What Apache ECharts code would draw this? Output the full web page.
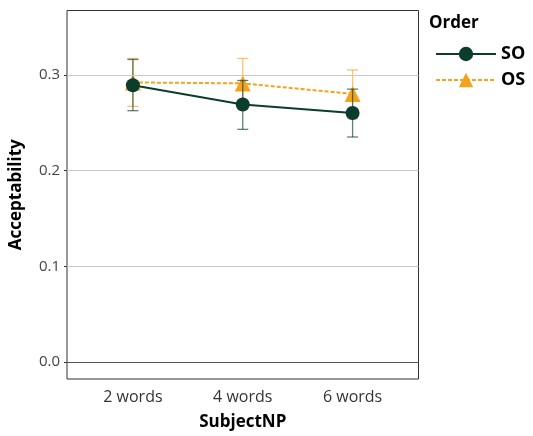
<!DOCTYPE html>
<html>
<head>
<meta charset="utf-8">
<script src="https://cdn.jsdelivr.net/npm/echarts@6/dist/echarts.min.js"></script>
<style>
  html, body { margin: 0; padding: 0; background: #fff; }
  #chart { width: 533px; height: 436px; }
</style>
</head>
<body>
<div id="chart"></div>
<script>
const categories = ["2 words", "4 words", "6 words"];
const xPos = [1, 2, 3];
const yTicks = [0.0, 0.1, 0.2, 0.3];

const soMean = [0.289, 0.269, 0.260];
const soLow = [0.2625, 0.243, 0.235];
const soHigh = [0.316, 0.294, 0.285];

const osMean = [0.292, 0.291, 0.280];
const osLow = [0.267, 0.266, 0.254];
const osHigh = [0.317, 0.317, 0.305];

const SO_COLOR = "#0b3d2c";
const OS_COLOR = "#f5a31c";
const FONT = "Open Sans";

function errorSeries(name, lo, hi, color, z) {
  return {
    name: name + " error",
    type: "custom",
    silent: true,
    z: z,
    data: xPos.map((x, i) => [x, lo[i], hi[i]]),
    renderItem(params, api) {
      const top = api.coord([api.value(0), api.value(2)]);
      const bot = api.coord([api.value(0), api.value(1)]);
      const w = 5.5;
      const style = { stroke: color, lineWidth: 1.3, opacity: 0.65 };
      return {
        type: "group",
        children: [
          { type: "line", shape: { x1: top[0], y1: top[1], x2: bot[0], y2: bot[1] }, style },
          { type: "line", shape: { x1: top[0] - w, y1: top[1], x2: top[0] + w, y2: top[1] }, style },
          { type: "line", shape: { x1: bot[0] - w, y1: bot[1], x2: bot[0] + w, y2: bot[1] }, style },
        ],
      };
    },
  };
}

const chart = echarts.init(document.getElementById("chart"));
chart.setOption({
  animation: false,
  textStyle: { fontFamily: FONT },
  grid: {
    left: 65.5, top: 10.5, width: 353, height: 370.5,
    show: true, borderColor: "#333", borderWidth: 1,
  },
  xAxis: {
    type: "value",
    min: 0.4,
    max: 3.6,
    name: "SubjectNP",
    nameLocation: "middle",
    nameGap: 35,
    nameTextStyle: { fontSize: 17, fontWeight: "bold", color: "#000", fontFamily: FONT },
    axisLine: { show: false },
    axisTick: { show: false },
    splitLine: { show: false },
    axisLabel: {
      customValues: xPos,
      formatter: (v) => categories[xPos.indexOf(v)] || "",
      fontSize: 16,
      color: "#333",
      margin: 10,
    },
  },
  yAxis: {
    type: "value",
    min: -0.0177,
    max: 0.3671,
    name: "Acceptability",
    nameLocation: "middle",
    nameGap: 42,
    nameRotate: 90,
    nameTextStyle: { fontSize: 17, fontWeight: "bold", color: "#000", fontFamily: FONT },
    axisLine: { show: false },
    splitLine: { show: false },
    axisTick: { show: true, customValues: yTicks, length: 3, lineStyle: { color: "#333" } },
    axisLabel: {
      customValues: yTicks,
      formatter: (v) => v.toFixed(1),
      fontSize: 15,
      color: "#444",
      margin: 7,
    },
  },
  legend: {
    orient: "vertical",
    left: 430,
    top: 40,
    itemWidth: 60,
    itemHeight: 18,
    itemGap: 8,
    textStyle: { fontSize: 18, fontWeight: "bold", color: "#000", fontFamily: FONT },
    data: ["SO", "OS"],
  },
  title: {
    text: "Order",
    left: 424,
    top: 10,
    textStyle: { fontSize: 17, fontWeight: "bold", color: "#000", fontFamily: FONT },
  },
  series: [
    {
      name: "grid",
      type: "line",
      data: [],
      z: 1,
      markLine: {
        silent: true,
        symbol: "none",
        label: { show: false },
        data: yTicks.map((v) => ({
          yAxis: v,
          lineStyle: { color: v === 0 ? "#555" : "#c8c8c8", width: 1, type: "solid" },
        })),
      },
    },
    errorSeries("OS", osLow, osHigh, OS_COLOR, 2),
    {
      name: "OS",
      type: "line",
      z: 3,
      data: xPos.map((x, i) => [x, osMean[i]]),
      symbol: "triangle",
      symbolSize: 16,
      itemStyle: { color: OS_COLOR },
      lineStyle: { color: OS_COLOR, width: 2, type: [4, 2] },
    },
    errorSeries("SO", soLow, soHigh, SO_COLOR, 4),
    {
      name: "SO",
      type: "line",
      z: 5,
      data: xPos.map((x, i) => [x, soMean[i]]),
      symbol: "circle",
      symbolSize: 14,
      itemStyle: { color: SO_COLOR },
      lineStyle: { color: SO_COLOR, width: 2 },
    },
  ],
});
</script>
</body>
</html>
